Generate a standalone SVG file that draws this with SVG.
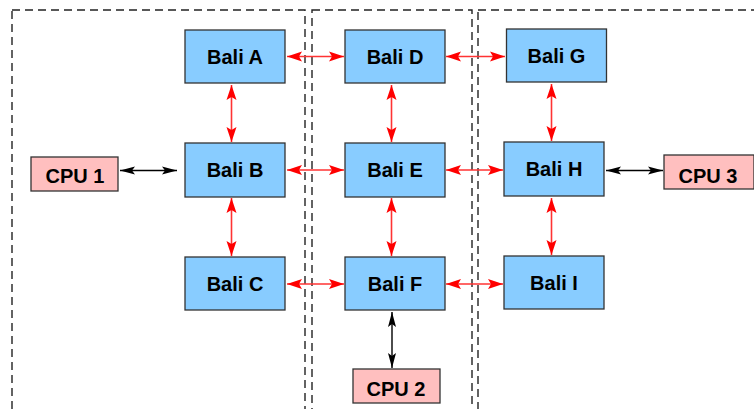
<svg xmlns="http://www.w3.org/2000/svg" width="754" height="409" viewBox="0 0 754 409">
<style>
.bali rect{fill:#88ccff;stroke:#333;stroke-width:1.3}
.cpu rect{fill:#ffbfbf;stroke:#333;stroke-width:1.3}
text{font-family:"Liberation Sans",Arial,sans-serif;font-size:20px;font-weight:bold;fill:#000;text-anchor:middle}
.region{fill:none;stroke:#222;stroke-width:1.4;stroke-dasharray:8,5}
.red{stroke:#ff3333;stroke-width:1.6;fill:none;marker-start:url(#ar);marker-end:url(#ar)}
.blk{stroke:#000;stroke-width:1.4;fill:none;marker-start:url(#ab);marker-end:url(#ab)}
</style>
<defs>
<marker id="ar" markerUnits="userSpaceOnUse" markerWidth="18" markerHeight="12" refX="15" refY="6" orient="auto-start-reverse"><path d="M0,1 L15,6 L0,11 L3,6 z" fill="#ff0000"/></marker>
<marker id="ab" markerUnits="userSpaceOnUse" markerWidth="18" markerHeight="12" refX="15" refY="6" orient="auto-start-reverse"><path d="M0,2 L15,6 L0,10 L3,6 z" fill="#000"/></marker>
</defs>
<g id="regions">
<rect class="region" x="12" y="10" width="293" height="420"/>
<rect class="region" x="312" y="10" width="160" height="420"/>
<rect class="region" x="478" y="10" width="300" height="420"/>
</g>
<g id="connectors">
<line class="red" x1="287" y1="56.5" x2="344" y2="56.5"/>
<line class="red" x1="446" y1="56.5" x2="505" y2="56.5"/>
<line class="red" x1="287" y1="170" x2="344" y2="170"/>
<line class="red" x1="446" y1="170" x2="503" y2="170"/>
<line class="red" x1="287" y1="284" x2="344" y2="284"/>
<line class="red" x1="446" y1="284" x2="503" y2="284"/>
<line class="red" x1="231.5" y1="85" x2="231.5" y2="142"/>
<line class="red" x1="231.5" y1="198" x2="231.5" y2="256"/>
<line class="red" x1="391.5" y1="85" x2="391.5" y2="142"/>
<line class="red" x1="391.5" y1="198" x2="391.5" y2="256"/>
<line class="red" x1="551.5" y1="84" x2="551.5" y2="141"/>
<line class="red" x1="551.5" y1="198" x2="551.5" y2="255"/>
<line class="blk" x1="120" y1="170.5" x2="177" y2="170.5"/>
<line class="blk" x1="606" y1="170.5" x2="663" y2="170.5"/>
<line class="blk" x1="392" y1="312" x2="392" y2="368"/>
</g>
<g id="baliA" class="bali"><rect x="185" y="30" width="100" height="53"/><text x="235" y="64">Bali A</text></g>
<g id="baliB" class="bali"><rect x="185" y="143" width="100" height="54"/><text x="235" y="177">Bali B</text></g>
<g id="baliC" class="bali"><rect x="185" y="257" width="100" height="53"/><text x="235" y="291">Bali C</text></g>
<g id="baliD" class="bali"><rect x="345" y="30" width="100" height="53"/><text x="395" y="64">Bali D</text></g>
<g id="baliE" class="bali"><rect x="345" y="143" width="100" height="54"/><text x="395" y="177">Bali E</text></g>
<g id="baliF" class="bali"><rect x="345" y="257" width="100" height="53"/><text x="395" y="291">Bali F</text></g>
<g id="baliG" class="bali"><rect x="506.5" y="29" width="100" height="53"/><text x="556.5" y="63">Bali G</text></g>
<g id="baliH" class="bali"><rect x="504" y="142" width="100" height="54"/><text x="554" y="176">Bali H</text></g>
<g id="baliI" class="bali"><rect x="504" y="256" width="100" height="53"/><text x="554" y="290">Bali I</text></g>
<g id="cpu1" class="cpu"><rect x="31" y="157" width="87" height="34"/><text x="75" y="183">CPU 1</text></g>
<g id="cpu2" class="cpu"><rect x="353" y="369" width="87" height="34"/><text x="396" y="396">CPU 2</text></g>
<g id="cpu3" class="cpu"><rect x="664" y="155" width="90" height="34"/><text x="708" y="183">CPU 3</text></g>
</svg>
